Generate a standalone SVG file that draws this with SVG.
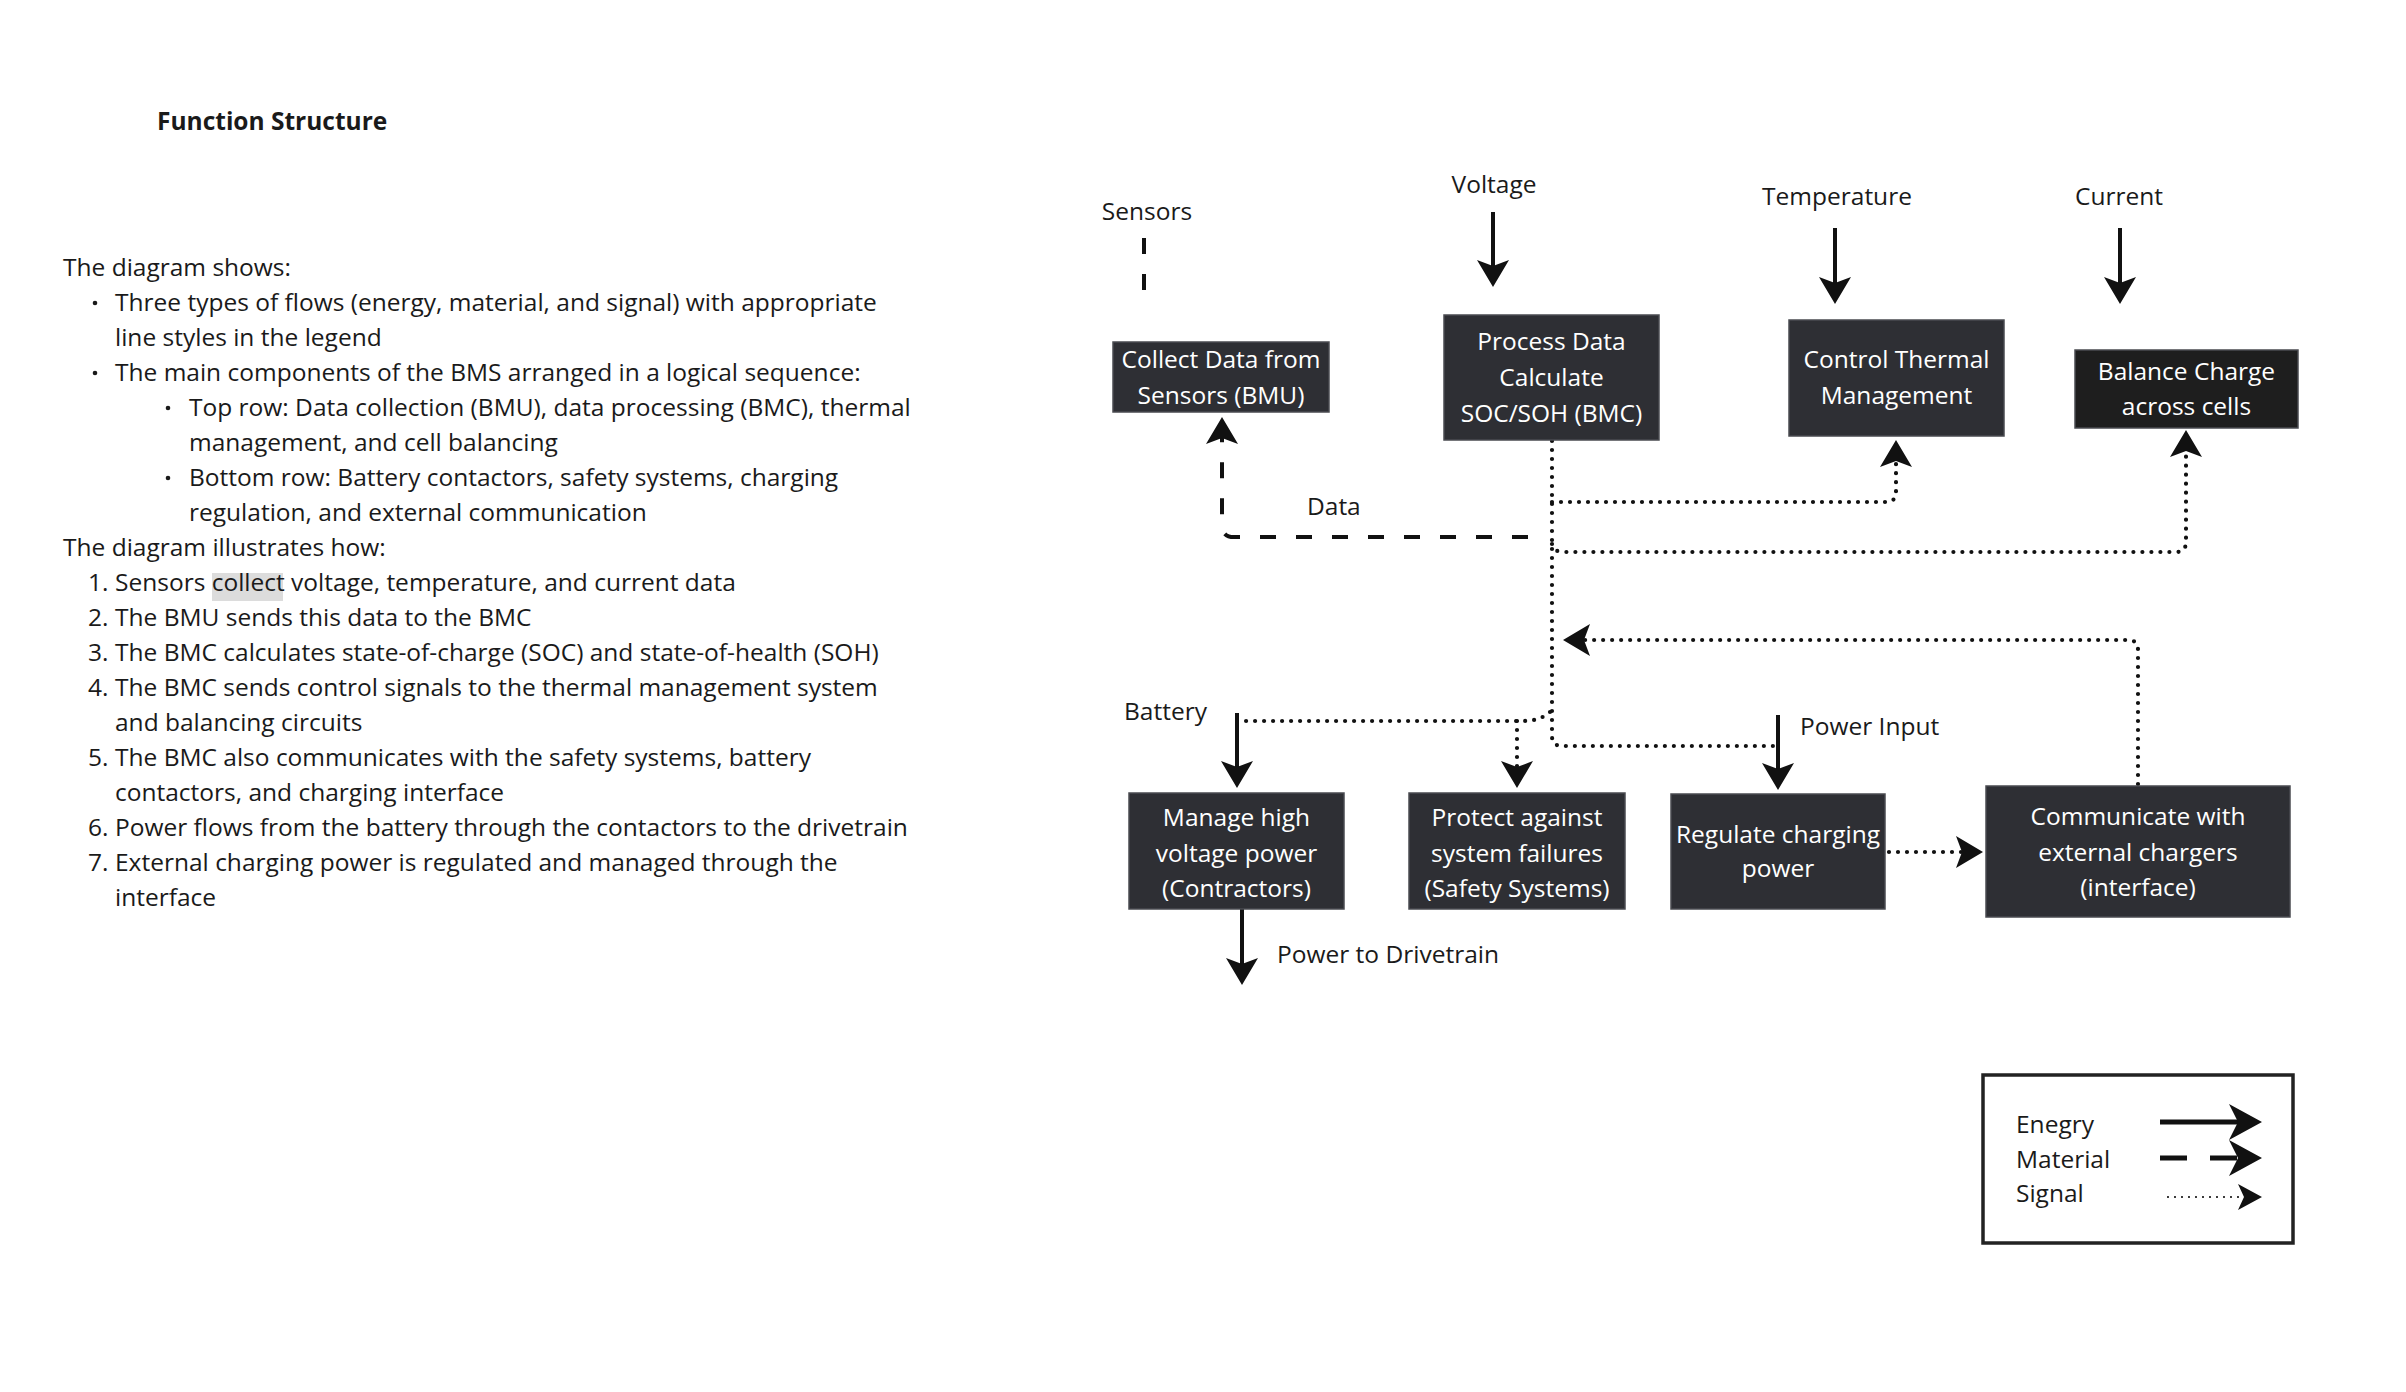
<svg xmlns="http://www.w3.org/2000/svg" width="2406" height="1392" viewBox="0 0 2406 1392">
<style>
  text { font-family: "Open Sans", "Noto Sans", "Liberation Sans", sans-serif; font-size: 24.5px; fill: #1a1a1a; }
  .title { font-weight: bold; }
  .box { fill: #2e2f34; stroke: #4a4b50; stroke-width: 1.5; }
  .box2 { fill: #1e1e1e; stroke: #4a4b50; stroke-width: 1.5; }
  .bt { fill: #ffffff; text-anchor: middle; }
  .lbl { fill: #1a1a1a; }
  .energy { fill: none; stroke: #111; stroke-width: 4; }
  .material { fill: none; stroke: #111; stroke-width: 4; stroke-dasharray: 16 20; }
  .signal { fill: none; stroke: #111; stroke-width: 4.2; stroke-linecap: round; stroke-dasharray: 0 9; }
  .ah { fill: #111; }
</style>
<defs>
  <marker id="arr" viewBox="0 0 28 32" markerWidth="28" markerHeight="32" refX="7" refY="16" orient="auto" markerUnits="userSpaceOnUse">
    <path d="M1,0 L28,16 L1,32 L7,16 Z" fill="#111"/>
  </marker>
</defs>
<rect width="2406" height="1392" fill="#ffffff"/>

<g id="description">
  <text class="title" x="157" y="130">Function Structure</text>
  <rect x="212" y="573" width="71" height="28" fill="#dcdcdc"/>
  <text x="63" y="276">The diagram shows:</text>
  <circle cx="95" cy="303" r="2.3" fill="#1a1a1a"/>
  <text x="115" y="311">Three types of flows (energy, material, and signal) with appropriate</text>
  <text x="115" y="346">line styles in the legend</text>
  <circle cx="95" cy="373" r="2.3" fill="#1a1a1a"/>
  <text x="115" y="381">The main components of the BMS arranged in a logical sequence:</text>
  <circle cx="168" cy="408" r="2.3" fill="#1a1a1a"/>
  <text x="189" y="416">Top row: Data collection (BMU), data processing (BMC), thermal</text>
  <text x="189" y="451">management, and cell balancing</text>
  <circle cx="168" cy="478" r="2.3" fill="#1a1a1a"/>
  <text x="189" y="486">Bottom row: Battery contactors, safety systems, charging</text>
  <text x="189" y="521">regulation, and external communication</text>
  <text x="63" y="556">The diagram illustrates how:</text>
  <text x="88" y="591">1.</text><text x="115" y="591">Sensors collect voltage, temperature, and current data</text>
  <text x="88" y="626">2.</text><text x="115" y="626">The BMU sends this data to the BMC</text>
  <text x="88" y="661">3.</text><text x="115" y="661">The BMC calculates state-of-charge (SOC) and state-of-health (SOH)</text>
  <text x="88" y="696">4.</text><text x="115" y="696">The BMC sends control signals to the thermal management system</text>
  <text x="115" y="731">and balancing circuits</text>
  <text x="88" y="766">5.</text><text x="115" y="766">The BMC also communicates with the safety systems, battery</text>
  <text x="115" y="801">contactors, and charging interface</text>
  <text x="88" y="836">6.</text><text x="115" y="836">Power flows from the battery through the contactors to the drivetrain</text>
  <text x="88" y="871">7.</text><text x="115" y="871">External charging power is regulated and managed through the</text>
  <text x="115" y="906">interface</text>
</g>

<g id="labels">
  <text class="lbl" x="1147" y="220" text-anchor="middle">Sensors</text>
  <text class="lbl" x="1494" y="193" text-anchor="middle">Voltage</text>
  <text class="lbl" x="1837" y="205" text-anchor="middle">Temperature</text>
  <text class="lbl" x="2119" y="205" text-anchor="middle">Current</text>
  <text class="lbl" x="1307" y="515">Data</text>
  <text class="lbl" x="1124" y="720">Battery</text>
  <text class="lbl" x="1800" y="735">Power Input</text>
  <text class="lbl" x="1277" y="963">Power to Drivetrain</text>
</g>

<g id="connectors">
  <line class="material" x1="1144" y1="238" x2="1144" y2="290"/>
  <line class="energy" x1="1493" y1="212" x2="1493" y2="266" marker-end="url(#arr)"/>
  <line class="energy" x1="1835" y1="228" x2="1835" y2="283" marker-end="url(#arr)"/>
  <line class="energy" x1="2120" y1="228" x2="2120" y2="283" marker-end="url(#arr)"/>
  <path class="material" d="M1528,537 H1234 Q1222,537 1222,525 V438" marker-end="url(#arr)"/>
  <path class="signal" d="M1552,441 V736 Q1552,746 1562,746 H1776"/>
  <path class="signal" d="M1552,502 H1886 Q1896,502 1896,492 V461" marker-end="url(#arr)"/>
  <path class="signal" d="M1552,544 Q1554,552 1563,552 H2176 Q2186,552 2186,542 V451" marker-end="url(#arr)"/>
  <path class="signal" d="M2138,784 V650 Q2138,640 2128,640 H1584" marker-end="url(#arr)"/>
  <path class="signal" d="M1550,712 Q1540,721 1523,721 H1241"/>
  <line class="signal" x1="1517" y1="721" x2="1517" y2="767" marker-end="url(#arr)"/>
  <line class="energy" x1="1237" y1="713" x2="1237" y2="767" marker-end="url(#arr)"/>
  <line class="energy" x1="1778" y1="715" x2="1778" y2="769" marker-end="url(#arr)"/>
  <line class="energy" x1="1242" y1="909" x2="1242" y2="964" marker-end="url(#arr)"/>
  <line class="signal" x1="1889" y1="852" x2="1962" y2="852" marker-end="url(#arr)"/>
</g>

<g id="node-collect">
  <rect class="box" x="1113" y="342" width="216" height="70"/>
  <text class="bt" x="1221" y="368">Collect Data from</text>
  <text class="bt" x="1221" y="404">Sensors (BMU)</text>
</g>
<g id="node-process">
  <rect class="box" x="1444" y="315" width="215" height="125"/>
  <text class="bt" x="1551.5" y="350">Process Data</text>
  <text class="bt" x="1551.5" y="386">Calculate</text>
  <text class="bt" x="1551.5" y="422">SOC/SOH (BMC)</text>
</g>
<g id="node-thermal">
  <rect class="box" x="1789" y="320" width="215" height="116"/>
  <text class="bt" x="1896.5" y="368">Control Thermal</text>
  <text class="bt" x="1896.5" y="404">Management</text>
</g>
<g id="node-balance">
  <rect class="box2" x="2075" y="350" width="223" height="78"/>
  <text class="bt" x="2186.5" y="380">Balance Charge</text>
  <text class="bt" x="2186.5" y="415">across cells</text>
</g>
<g id="node-manage">
  <rect class="box" x="1129" y="793" width="215" height="116"/>
  <text class="bt" x="1236.5" y="826">Manage high</text>
  <text class="bt" x="1236.5" y="862">voltage power</text>
  <text class="bt" x="1236.5" y="897">(Contractors)</text>
</g>
<g id="node-protect">
  <rect class="box" x="1409" y="793" width="216" height="116"/>
  <text class="bt" x="1517" y="826">Protect against</text>
  <text class="bt" x="1517" y="862">system failures</text>
  <text class="bt" x="1517" y="897">(Safety Systems)</text>
</g>
<g id="node-regulate">
  <rect class="box" x="1671" y="794" width="214" height="115"/>
  <text class="bt" x="1778" y="843">Regulate charging</text>
  <text class="bt" x="1778" y="877">power</text>
</g>
<g id="node-communicate">
  <rect class="box" x="1986" y="786" width="304" height="131"/>
  <text class="bt" x="2138" y="825">Communicate with</text>
  <text class="bt" x="2138" y="861">external chargers</text>
  <text class="bt" x="2138" y="896">(interface)</text>
</g>

<g id="legend">
  <rect x="1983" y="1075" width="310" height="168" fill="#ffffff" stroke="#222" stroke-width="3.5"/>
  <text x="2016" y="1133">Enegry</text>
  <text x="2016" y="1168">Material</text>
  <text x="2016" y="1202">Signal</text>
  <line x1="2160" y1="1122" x2="2238" y2="1122" stroke="#111" stroke-width="5"/>
  <path class="ah" d="M2229,1104 L2262,1122 L2229,1140 L2238,1122 Z"/>
  <line x1="2160" y1="1158" x2="2238" y2="1158" stroke="#111" stroke-width="5" stroke-dasharray="27 23"/>
  <path class="ah" d="M2229,1140 L2262,1158 L2229,1176 L2238,1158 Z"/>
  <line x1="2168" y1="1197" x2="2242" y2="1197" stroke="#111" stroke-width="2.2" stroke-linecap="round" stroke-dasharray="0 7"/>
  <path class="ah" d="M2238,1184 L2262,1197 L2238,1210 L2244,1197 Z"/>
</g>
</svg>
